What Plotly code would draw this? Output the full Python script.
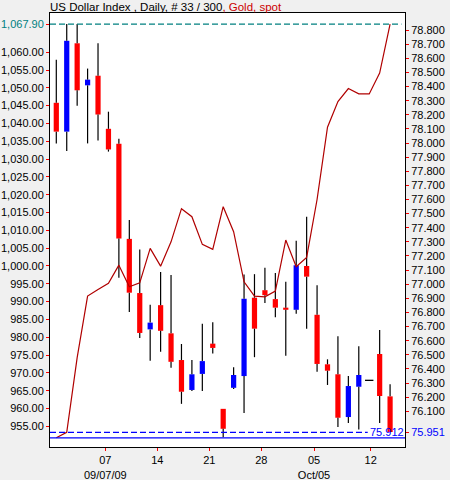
import plotly.graph_objects as go

# Candle data (left axis), one entry per trading day
opens = [1045.8, 1037.7, 1062.5, 1050.7, 1053.4, 1038.5, 1034.3, 1007.6, 992.4, 982.2,
         989.0, 981.1, 973.6, 965.2, 969.7, 978.2, 959.9, 965.8, 969.1, 991.1,
         993.2, 990.7, 988.3, 987.7, 1000.0, 986.3, 972.4, 969.6, 957.6, 966.1,
         967.9, 975.3, 963.4]
highs = [1057.9, 1067.9, 1067.9, 1055.4, 1062.5, 1043.3, 1035.7, 1012.9, 1004.6, 989.1,
         998.3, 997.5, 978.1, 973.6, 983.8, 984.2, 959.9, 971.6, 997.6, 997.7,
         999.5, 998.0, 995.6, 1007.1, 1013.8, 994.6, 973.8, 980.3, 969.1, 977.5,
         967.9, 982.0, 966.8]
lows = [1034.4, 1032.3, 1045.0, 1034.4, 1035.2, 1032.1, 996.7, 987.1, 979.8, 973.4,
        975.9, 971.4, 961.3, 964.9, 964.9, 975.4, 951.9, 965.5, 958.7, 974.4,
        989.6, 985.6, 974.8, 986.6, 982.4, 970.3, 966.6, 954.8, 955.9, 954.1,
        967.9, 955.9, 953.4]
closes = [1037.7, 1063.2, 1049.3, 1052.3, 1042.5, 1032.7, 1007.7, 992.5, 981.2, 984.1,
          981.8, 973.1, 964.7, 969.6, 973.3, 977.0, 954.3, 969.4, 990.8, 982.4,
          991.8, 988.3, 987.7, 1000.2, 997.0, 972.5, 970.6, 957.4, 966.3, 969.4,
          967.9, 963.5, 953.4]

# Line series (right axis)
line_vals = [75.912, 75.951, 76.48, 76.916, 76.963, 77.006, 77.135, 76.982, 77.010, 77.254,
             77.128, 77.30, 77.535, 77.478, 77.282, 77.247, 77.549, 77.372, 77.017, 76.916,
             76.911, 76.951, 77.313, 77.124, 77.190, 77.60, 78.112, 78.294, 78.386, 78.348,
             78.348, 78.495, 78.842]

# Reference levels
candle_high = 1067.90
line_min = 75.912
line_mark = 75.951

# Date axis
tick_pos = [4.70, 9.68, 14.67, 19.66, 24.71, 30.14]
tick_labels = ["07<br>09/07/09", "14", "21", "28", "05<br>Oct/05", "12"]

left_ticks = [955 + 5 * i for i in range(22)]
right_ticks = [round(76.1 + 0.1 * i, 1) for i in range(28)]

RED = "#FF0000"
BLUE = "#0000FF"
LINE_RED = "#B00000"
TEAL = "#008080"
FONT = "Liberation Sans, Arial, sans-serif"

idx = list(range(len(opens)))

body_top = [max(o, c) for o, c in zip(opens, closes)]
body_base = [min(o, c) for o, c in zip(opens, closes)]
body_len = [abs(c - o) for o, c in zip(opens, closes)]
body_col = [BLUE if c > o else RED for o, c in zip(opens, closes)]

# wicks: only the parts outside the body (bars are drawn beneath scatter traces)
wx, wy = [], []
for i, h, l, t, b in zip(idx, highs, lows, body_top, body_base):
    if h > t:
        wx += [i, i, None]
        wy += [t, h, None]
    if l < b:
        wx += [i, i, None]
        wy += [l, b, None]

doji_x = [i for i, o, c in zip(idx, opens, closes) if o == c]
doji_y = [c for o, c in zip(opens, closes) if o == c]

fig = go.Figure()
fig.add_trace(go.Bar(x=idx, y=body_len, base=body_base, marker_color=body_col,
                     marker_line_width=0, width=0.5, hoverinfo="skip"))
fig.add_trace(go.Scatter(x=wx, y=wy, mode="lines", line=dict(color="black", width=1.2),
                         hoverinfo="skip"))
fig.add_trace(go.Scatter(x=doji_x, y=doji_y, mode="markers",
                         marker=dict(symbol="line-ew-open", size=6, color="black",
                                     line=dict(color="black", width=1.3)),
                         hoverinfo="skip"))
fig.add_trace(go.Scatter(x=idx, y=line_vals, yaxis="y2", mode="lines",
                         line=dict(color=LINE_RED, width=1.2), hoverinfo="skip"))

# reference lines
fig.add_shape(type="line", xref="paper", yref="y", x0=0, x1=0.99,
              y0=candle_high, y1=candle_high, line=dict(color=TEAL, width=1.2, dash="6px,3px"))
fig.add_shape(type="line", xref="paper", yref="y2", x0=0, x1=0.895,
              y0=line_mark, y1=line_mark, line=dict(color=BLUE, width=1.2, dash="6px,3px"))
fig.add_shape(type="line", xref="paper", yref="y2", x0=0, x1=1,
              y0=line_min, y1=line_min, line=dict(color=BLUE, width=1.2))
fig.add_annotation(xref="paper", yref="y2", x=1, y=line_mark, text=f"{line_min:.3f}",
                   xanchor="right", yanchor="middle", showarrow=False, xshift=1,
                   font=dict(family=FONT, size=11, color=BLUE))

left_vals = left_ticks + [candle_high]
left_text = [f"{v:,.2f}" for v in left_ticks] + [f'<span style="color:{TEAL}">{candle_high:,.2f}</span>']
right_vals = right_ticks + [line_mark]
right_text = [f"{v:.3f}" for v in right_ticks] + [f'<span style="color:{BLUE}">{line_mark:.3f}</span>']

axis_common = dict(showgrid=False, zeroline=False, ticks="outside", ticklen=3,
                   tickcolor=RED, tickfont=dict(family=FONT, size=11, color="black"),
                   showline=True, linecolor="black", linewidth=1, automargin=False)

fig.update_layout(
    width=450, height=480,
    paper_bgcolor="#F0F0F0", plot_bgcolor="white",
    margin=dict(l=50, r=45, t=13, b=33),
    showlegend=False,
    font=dict(family=FONT, size=11, color="black"),
    title=dict(
        text=f'US Dollar Index , Daily, # 33 / 300<span style="color:#CC0000">, Gold, spot</span>',
        font=dict(family=FONT, size=11.5, color="black"),
        x=50 / 450, xanchor="left", y=1 - 6.5 / 480, yanchor="middle",
        pad=dict(l=0, r=0, t=0, b=0),
    ),
    xaxis=dict(range=[-0.604, 33.43], tickvals=tick_pos, ticktext=tick_labels,
               mirror=True, **axis_common),
    yaxis=dict(range=[949.19, 1071.0], tickvals=left_vals, ticktext=left_text,
               **axis_common),
    yaxis2=dict(range=[75.847, 78.921], tickvals=right_vals, ticktext=right_text,
                overlaying="y", side="right", **axis_common),
)

fig.write_html("out.html", config={"displayModeBar": False},
               post_script="document.body.style.margin='0';")
